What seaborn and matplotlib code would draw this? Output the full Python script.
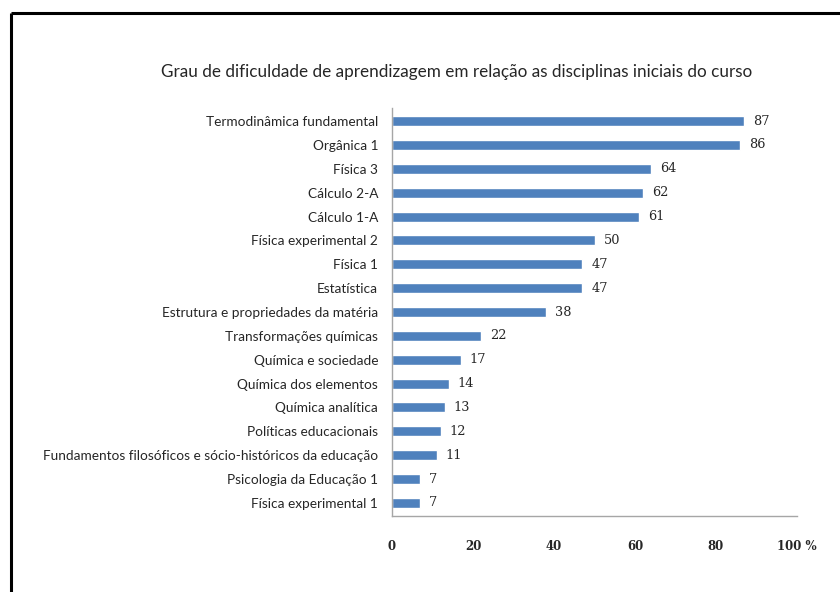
import pandas as pd
import matplotlib.pyplot as plt
import seaborn as sns
from matplotlib.lines import Line2D

disciplinas = [
    "Termodinâmica fundamental", "Orgânica 1", "Física 3", "Cálculo 2-A",
    "Cálculo 1-A", "Física experimental 2", "Física 1", "Estatística",
    "Estrutura e propriedades da matéria", "Transformações químicas",
    "Química e sociedade", "Química dos elementos", "Química analítica",
    "Políticas educacionais",
    "Fundamentos filosóficos e sócio-históricos da educação",
    "Psicologia da Educação 1", "Física experimental 1",
]
percentuais = [87, 86, 64, 62, 61, 50, 47, 47, 38, 22, 17, 14, 13, 12, 11, 7, 7]
x_ticks = [0, 20, 40, 60, 80, 100]
x_tick_labels = ["0", "20", "40", "60", "80", "100 %"]

df = pd.DataFrame({"disciplina": disciplinas, "pct": percentuais})

sns.set_style("white")
plt.rcParams["font.family"] = ["Lato", "DejaVu Sans"]

fig = plt.figure(figsize=(8.4, 5.92), dpi=100, facecolor="white")
ax = fig.add_axes([392 / 840, 1 - 516 / 592, 405 / 840, 408 / 592])

sns.barplot(data=df, x="pct", y="disciplina", color="#4F81BD",
            width=0.42, saturation=1, ax=ax)

ax.set_xlim(0, 100)
ax.set_ylim(len(disciplinas) - 0.45, -0.55)
ax.set_xlabel("")
ax.set_ylabel("")
ax.set_xticks(x_ticks)
ax.set_xticklabels(x_tick_labels, family="DejaVu Serif", fontweight="bold",
                   fontsize=8.5)
ax.tick_params(axis="x", length=0, pad=17)
ax.tick_params(axis="y", length=0, pad=10, labelsize=9.8)

for s in ["top", "right"]:
    ax.spines[s].set_visible(False)
for s in ["left", "bottom"]:
    ax.spines[s].set_color("#A6A6A6")
    ax.spines[s].set_linewidth(1)

for i, v in enumerate(percentuais):
    ax.text(v + 2.2, i, str(v), va="center", ha="left",
            family="DejaVu Serif", fontsize=9.3)

fig.text(457 / 840, 1 - 72 / 592,
         "Grau de dificuldade de aprendizagem em relação as disciplinas iniciais do curso",
         ha="center", va="center", fontsize=12.3)

# moldura preta: topo e lateral esquerda, o resto fica fora da imagem
fy = 1 - 13 / 592
fx = 11 / 840
fig.add_artist(Line2D([fx, 1.05], [fy, fy], transform=fig.transFigure,
                      color="black", linewidth=2.2, solid_capstyle="butt"))
fig.add_artist(Line2D([fx, fx], [-0.05, fy], transform=fig.transFigure,
                      color="black", linewidth=2.2, solid_capstyle="butt"))

fig.savefig("out.png", dpi=100, facecolor="white")
